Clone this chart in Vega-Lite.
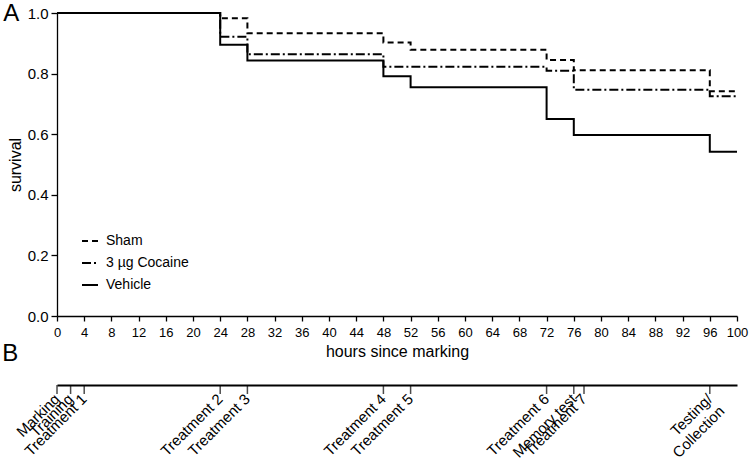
{
  "$schema": "https://vega.github.io/schema/vega-lite/v6.json",
  "background": "white",
  "padding": {"left": 2, "top": 2, "right": 5, "bottom": 0},
  "spacing": -17,
  "config": {
    "view": {"stroke": null},
    "font": "Liberation Sans",
    "axis": {"domainColor": "black", "tickColor": "black", "labelColor": "black", "titleColor": "black", "grid": false, "labelFont": "Liberation Sans", "titleFont": "Liberation Sans", "titleFontWeight": "normal", "domainWidth": 1.3, "tickWidth": 1.3},
    "title": {"font": "Liberation Sans", "color": "black", "fontWeight": "normal"}
  },
  "vconcat": [
    {
      "width": 680,
      "height": 303,
      "title": {"text": "A", "anchor": "start", "frame": "bounds", "fontSize": 24, "baseline": "alphabetic", "offset": -39, "dx": -4},
      "data": {"values": [
        {"group": "Sham", "hours": 0, "survival": 1.0},
        {"group": "Sham", "hours": 24, "survival": 0.983},
        {"group": "Sham", "hours": 28, "survival": 0.933},
        {"group": "Sham", "hours": 48, "survival": 0.903},
        {"group": "Sham", "hours": 52, "survival": 0.879},
        {"group": "Sham", "hours": 72, "survival": 0.845},
        {"group": "Sham", "hours": 76, "survival": 0.811},
        {"group": "Sham", "hours": 96, "survival": 0.742},
        {"group": "Sham", "hours": 100, "survival": 0.742},
        {"group": "3 µg Cocaine", "hours": 0, "survival": 1.0},
        {"group": "3 µg Cocaine", "hours": 24, "survival": 0.922},
        {"group": "3 µg Cocaine", "hours": 28, "survival": 0.864},
        {"group": "3 µg Cocaine", "hours": 48, "survival": 0.823},
        {"group": "3 µg Cocaine", "hours": 72, "survival": 0.809},
        {"group": "3 µg Cocaine", "hours": 76, "survival": 0.747},
        {"group": "3 µg Cocaine", "hours": 96, "survival": 0.725},
        {"group": "3 µg Cocaine", "hours": 100, "survival": 0.725},
        {"group": "Vehicle", "hours": 0, "survival": 1.0},
        {"group": "Vehicle", "hours": 24, "survival": 0.895},
        {"group": "Vehicle", "hours": 28, "survival": 0.843},
        {"group": "Vehicle", "hours": 48, "survival": 0.791},
        {"group": "Vehicle", "hours": 52, "survival": 0.755},
        {"group": "Vehicle", "hours": 72, "survival": 0.65},
        {"group": "Vehicle", "hours": 76, "survival": 0.597},
        {"group": "Vehicle", "hours": 96, "survival": 0.542},
        {"group": "Vehicle", "hours": 100, "survival": 0.542}
      ]},
      "mark": {"type": "line", "interpolate": "step-after", "strokeWidth": 2, "color": "black"},
      "encoding": {
        "x": {"field": "hours", "type": "quantitative",
          "scale": {"domain": [0, 100], "nice": false, "zero": false},
          "axis": {"values": [0,4,8,12,16,20,24,28,32,36,40,44,48,52,56,60,64,68,72,76,80,84,88,92,96,100],
            "title": "hours since marking", "labelFontSize": 13, "titleFontSize": 16, "tickSize": 5, "labelPadding": 5, "titlePadding": 4, "labelFlush": false, "labelOverlap": false, "labelBound": false}},
        "y": {"field": "survival", "type": "quantitative",
          "scale": {"domain": [0, 1], "nice": false},
          "axis": {"values": [0, 0.2, 0.4, 0.6, 0.8, 1.0], "format": ".1f", "title": "survival", "labelFontSize": 15, "titleFontSize": 16, "tickSize": 6, "labelPadding": 3, "titlePadding": 4, "labelFlush": false, "labelOverlap": false}},
        "strokeDash": {"field": "group", "type": "nominal",
          "scale": {"domain": ["Sham", "3 µg Cocaine", "Vehicle"], "range": [[6, 4], [9, 3, 2, 3], [1, 0]]},
          "legend": {"orient": "none", "legendX": 24, "legendY": 219, "title": null, "symbolType": "stroke", "symbolSize": 256, "symbolStrokeWidth": 2, "symbolStrokeColor": "black", "labelFontSize": 14, "labelFont": "Liberation Sans", "labelColor": "black", "rowPadding": 6, "labelOffset": 7}}
      }
    },
    {
      "width": 680,
      "height": 9,
      "title": {"text": "B", "anchor": "start", "frame": "bounds", "fontSize": 24, "baseline": "alphabetic", "offset": 0, "dx": -12},
      "data": {"values": [
        {"hour": 0, "event": "Marking"},
        {"hour": 2, "event": "Training"},
        {"hour": 4, "event": "Treatment 1"},
        {"hour": 24, "event": "Treatment 2"},
        {"hour": 28, "event": "Treatment 3"},
        {"hour": 48, "event": "Treatment 4"},
        {"hour": 52, "event": "Treatment 5"},
        {"hour": 72, "event": "Treatment 6"},
        {"hour": 76, "event": "Memory test"},
        {"hour": 77.5, "event": "Treatment 7"},
        {"hour": 96, "event": "Testing/\nCollection"}
      ]},
      "layer": [
        {
          "mark": {"type": "tick", "color": "black", "thickness": 1.5, "size": 9},
          "encoding": {
            "x": {"field": "hour", "type": "quantitative",
              "scale": {"domain": [0, 100], "nice": false, "zero": false},
              "axis": {"orient": "top", "domain": true, "domainWidth": 2, "ticks": false, "labels": false, "title": null, "grid": false}}
          }
        },
        {
          "mark": {"type": "text", "angle": 315, "align": "right", "baseline": "middle", "fontSize": 15, "dx": -5, "dy": 5, "lineBreak": "\n", "color": "black", "font": "Liberation Sans"},
          "encoding": {
            "x": {"field": "hour", "type": "quantitative"},
            "text": {"field": "event", "type": "nominal"}
          }
        }
      ]
    }
  ]
}
